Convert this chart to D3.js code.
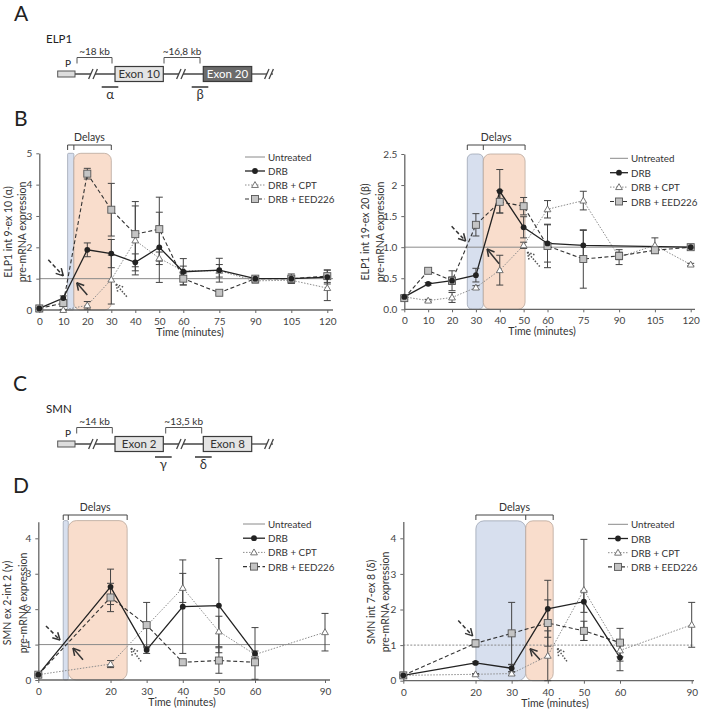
<!DOCTYPE html>
<html>
<head>
<meta charset="utf-8">
<script src="https://cdn.jsdelivr.net/npm/d3@7"></script>
<style>
  body { margin: 0; background: #fff; }
  svg { font-family: Lato, 'Open Sans', sans-serif; }
</style>
</head>
<body>
<div id="figure"></div>
<script>
// ---- Panel B left: ELP1 int 9-ex 10 (alpha)
const elpAlphaTimes = [0, 10, 20, 30, 40, 50, 60, 75, 90, 105, 120];
const elpAlphaDrb = [0.05, 0.38, 1.92, 1.8, 1.52, 2.0, 1.22, 1.27, 1.0, 1.0, 1.05];
const elpAlphaDrbErr = [0.03, 0.07, 0.22, 0.45, 0.27, 1.12, 0.42, 0.38, 0.06, 0.15, 0.22];
const elpAlphaCpt = [0.02, 0.0, 0.15, 0.97, 2.22, 1.65, 1.25, 1.25, 0.93, 0.95, 0.7];
const elpAlphaCptErr = [0.02, 0.02, 0.12, 0.78, 1.1, 0.2, 0.15, 0.2, 0.06, 0.1, 0.4];
const elpAlphaEed = [0.05, 0.22, 4.35, 3.2, 2.42, 2.58, 1.0, 0.55, 1.0, 1.0, 1.08];
const elpAlphaEedErr = [0.03, 0.1, 0.17, 0.84, 1.04, 1.02, 0.2, 0.05, 0.06, 0.08, 0.2];
const elpAlphaYTicks = [0, 1, 2, 3, 4, 5];

// ---- Panel B right: ELP1 int 19-ex 20 (beta)
const elpBetaTimes = [0, 10, 20, 30, 40, 50, 60, 75, 90, 105, 120];
const elpBetaDrb = [0.2, 0.41, 0.46, 0.55, 1.9, 1.32, 1.06, 1.03, null, null, 1.0];
const elpBetaDrbErr = [0.02, 0.02, 0.06, 0.11, 0.35, 0.17, 0.3, 0.24, null, null, 0.02];
const elpBetaCpt = [0.2, 0.14, 0.19, 0.35, 0.63, 1.03, 1.61, 1.75, 0.84, 1.03, 0.72];
const elpBetaCptErr = [0.02, 0.02, 0.08, 0.03, 0.24, 0.05, 0.14, 0.15, 0.12, 0.12, 0.02];
const elpBetaEed = [0.18, 0.62, 0.46, 1.36, 1.73, 1.66, 1.02, 0.81, 0.86, 0.95, 1.0];
const elpBetaEedErr = [0.02, 0.02, 0.16, 0.18, 0.18, 0.14, 0.35, 0.47, 0.06, 0.05, 0.02];
const elpBetaYTicks = [0, 0.5, 1, 1.5, 2, 2.5];
const elpBetaYLabels = ['0.0', '0.5', '1.0', '1.5', '2', '2.5'];

// ---- Panel D left: SMN ex 2-int 2 (gamma)
const smnGammaTimes = [0, 20, 30, 40, 50, 60, 90];
const smnGammaDrb = [0.15, 2.63, 0.85, 2.07, 2.1, 0.75, null];
const smnGammaDrbErr = [0.02, 0.5, 0.1, 1.32, 1.33, 0.73, null];
const smnGammaCpt = [0.15, 0.45, null, 2.6, 1.37, 0.72, 1.35];
const smnGammaCptErr = [0.02, 0.1, null, 0.41, 0.43, 0.1, 0.53];
const smnGammaEed = [0.15, 2.33, 1.55, 0.5, 0.55, 0.5, null];
const smnGammaEedErr = [0.02, 0.4, 0.64, 0.05, 0.36, 0.05, null];

// ---- Panel D right: SMN int 7-ex 8 (delta)
const smnDeltaTimes = [0, 20, 30, 40, 50, 60, 90];
const smnDeltaDrb = [0.15, 0.5, 0.35, 2.02, 2.22, 0.65, null];
const smnDeltaDrbErr = [0.02, 0.03, 0.1, 0.8, 0.3, 0.37, null];
const smnDeltaCpt = [0.15, 0.18, 0.2, 0.7, 2.55, 0.85, 1.57];
const smnDeltaCptErr = [0.02, 0.02, 0.05, 0.7, 1.42, 0.3, 0.63];
const smnDeltaEed = [0.15, 1.05, 1.33, 1.62, 1.4, 1.07, null];
const smnDeltaEedErr = [0.02, 0.1, 0.87, 0.65, 0.27, 0.4, null];
const smnYTicks = [0, 1, 2, 3, 4];

const legendLabels = ['Untreated', 'DRB', 'DRB + CPT', 'DRB + EED226'];

// Line / marker look for each treatment
const styles = {
  drb: { stroke: '#222', width: 1.3, dash: null, marker: 'circle' },
  cpt: { stroke: '#8c8c8c', width: 1, dash: '1.5,1.5', marker: 'triangle' },
  eed: { stroke: '#333', width: 1.1, dash: '4,2.5', marker: 'square' }
};
const bandColours = {
  blue: { fill: '#d7dfee', stroke: '#9ea6b4' },
  orange: { fill: '#f9ddcc', stroke: '#b9a79c' }
};

const svg = d3.select('#figure').append('svg')
  .attr('width', 701)
  .attr('height', 710);
svg.append('rect').attr('width', 701).attr('height', 710).attr('fill', '#fff');

// Panel letters
[['A', 14, 21], ['B', 14, 126], ['C', 13, 391], ['D', 13, 493]].forEach(([t, px, py]) => {
  svg.append('text').attr('x', px).attr('y', py)
    .style('font-size', '21px').style('fill', '#222').text(t);
});

// ---------- gene diagrams ----------
function drawGene(cfg) {
  const g = svg.append('g');
  const gy = cfg.y;
  g.append('text').attr('x', 46).attr('y', gy - 31)
    .style('font-size', '11.5px').style('fill', '#222').text(cfg.name);

  // backbone segments
  [[75, 115], [163, 203], [252, 273]].forEach(([a, b]) => {
    g.append('line').attr('x1', a).attr('x2', b).attr('y1', gy).attr('y2', gy)
      .attr('stroke', '#444').attr('stroke-width', 1.3);
  });
  // break marks
  [93, 181, 269].forEach(cx => {
    g.append('rect').attr('x', cx - 2).attr('y', gy - 1).attr('width', 4).attr('height', 2).attr('fill', '#fff');
    [-2.2, 2.2].forEach(o => {
      g.append('line').attr('x1', cx + o - 2.2).attr('y1', gy + 5).attr('x2', cx + o + 2.2).attr('y2', gy - 5)
        .attr('stroke', '#444').attr('stroke-width', 1.3);
    });
  });
  // promoter
  g.append('rect').attr('x', 57.7).attr('y', gy - 3).attr('width', 17.3).attr('height', 6)
    .attr('fill', '#ddd').attr('stroke', '#555').attr('stroke-width', 1);
  g.append('text').attr('x', 68).attr('y', gy - 7).attr('text-anchor', 'middle')
    .style('font-size', '10px').style('fill', '#222').text('P');
  // exons
  cfg.exons.forEach(e => {
    g.append('rect').attr('x', e.x0).attr('y', gy - 7.5).attr('width', e.x1 - e.x0).attr('height', 15)
      .attr('fill', e.dark ? '#6b6b6b' : '#e4e4e4').attr('stroke', '#3a3a3a').attr('stroke-width', 1.2);
    g.append('text').attr('x', (e.x0 + e.x1) / 2).attr('y', gy + 4.2).attr('text-anchor', 'middle')
      .style('font-size', '11.5px').style('fill', e.dark ? '#fff' : '#333').text(e.label);
  });
  // distance brackets
  cfg.brackets.forEach(b => {
    g.append('path').attr('d', `M${b.x0},${gy - 10.5}V${gy - 16.5}H${b.x1}V${gy - 10.5}`)
      .attr('fill', 'none').attr('stroke', '#555').attr('stroke-width', 1);
    g.append('text').attr('x', (b.x0 + b.x1) / 2).attr('y', gy - 19).attr('text-anchor', 'middle')
      .style('font-size', '10px').style('fill', '#333').text(b.label);
  });
  // amplicon probes
  cfg.probes.forEach(p => {
    g.append('line').attr('x1', p.x0).attr('x2', p.x1).attr('y1', gy + 13).attr('y2', gy + 13)
      .attr('stroke', '#333').attr('stroke-width', 1.5);
    g.append('text').attr('x', (p.x0 + p.x1) / 2).attr('y', gy + 25).attr('text-anchor', 'middle')
      .style('font-size', '13px').style('fill', '#333').text(p.label);
  });
}

drawGene({
  y: 74, name: 'ELP1',
  exons: [{ x0: 115, x1: 163.3, label: 'Exon 10' }, { x0: 203.3, x1: 251.7, label: 'Exon 20', dark: true }],
  brackets: [{ x0: 77, x1: 112, label: '~18 kb' }, { x0: 164, x1: 200, label: '~16,8 kb' }],
  probes: [{ x0: 101.7, x1: 118.3, label: 'α' }, { x0: 191.7, x1: 208.3, label: 'β' }]
});
drawGene({
  y: 444, name: 'SMN',
  exons: [{ x0: 115, x1: 163.3, label: 'Exon 2' }, { x0: 203.3, x1: 251.7, label: 'Exon 8' }],
  brackets: [{ x0: 76.7, x1: 112.3, label: '~14 kb' }, { x0: 165.7, x1: 201.7, label: '~13,5 kb' }],
  probes: [{ x0: 155, x1: 171.7, label: 'γ' }, { x0: 195, x1: 211.7, label: 'δ' }]
});

// ---------- time-course panels ----------
function drawMarker(g, kind, cx, cy) {
  if (kind === 'circle') {
    g.append('circle').attr('cx', cx).attr('cy', cy).attr('r', 2.9).attr('fill', '#222');
  } else if (kind === 'triangle') {
    g.append('path').attr('d', d3.symbol(d3.symbolTriangle, 20)())
      .attr('transform', `translate(${cx},${cy + 0.5})`)
      .attr('fill', '#fff').attr('stroke', '#666').attr('stroke-width', 0.9);
  } else {
    g.append('rect').attr('x', cx - 3.5).attr('y', cy - 3.5).attr('width', 7).attr('height', 7)
      .attr('fill', '#c4c4c4').attr('stroke', '#555').attr('stroke-width', 0.9);
  }
}

function drawArrow(g, tx, ty, dx, dy, kind) {
  const col = kind === 'cpt' ? '#555' : '#333';
  const dash = kind === 'drb' ? null : (kind === 'eed' ? '4,2.5' : '1.5,1.5');
  g.append('line').attr('x1', tx + dx).attr('y1', ty + dy).attr('x2', tx).attr('y2', ty)
    .attr('stroke', col).attr('stroke-width', 1.5).attr('stroke-dasharray', dash);
  const ang = Math.atan2(-dy, -dx);
  [0.5, -0.5].forEach(o => {
    const a = ang + Math.PI + o;
    g.append('line').attr('x1', tx).attr('y1', ty)
      .attr('x2', tx + 8 * Math.cos(a)).attr('y2', ty + 8 * Math.sin(a))
      .attr('stroke', col).attr('stroke-width', 1.5)
      .attr('stroke-dasharray', kind === 'cpt' ? '1.5,1.5' : null);
  });
}

function drawPanel(p) {
  const g = svg.append('g');
  const x = d3.scaleLinear().domain(p.xDomain).range(p.xRange);
  const y = d3.scaleLinear().domain([0, p.yMax]).range([p.y0, p.y0 - p.yMax * p.ppu]);

  // delay bands
  p.bands.forEach(b => {
    g.append('rect')
      .attr('x', x(b.from)).attr('width', x(b.to) - x(b.from))
      .attr('y', y(p.bandTop)).attr('height', y(0) - y(p.bandTop))
      .attr('rx', b.rx)
      .attr('fill', bandColours[b.kind].fill)
      .attr('stroke', bandColours[b.kind].stroke).attr('stroke-width', 0.8);
  });
  const bx0 = x(p.bands[0].from), bxm = x(p.bands[0].to), bx1 = x(p.bands[1].to);
  const by = p.bracketY;
  g.append('path')
    .attr('d', `M${bx0},${by + 5}V${by}H${bx1}V${by + 5}M${bxm},${by}V${by + 5}`)
    .attr('fill', 'none').attr('stroke', '#444').attr('stroke-width', 1);
  g.append('text').attr('x', (bx0 + bx1) / 2).attr('y', by - 4).attr('text-anchor', 'middle')
    .style('font-size', '10.5px').style('fill', '#333').text('Delays');

  // untreated reference
  g.append('line').attr('x1', p.xRange[0]).attr('x2', p.xEnd).attr('y1', y(1)).attr('y2', y(1))
    .attr('stroke', '#8a8a8a').attr('stroke-width', 1).attr('stroke-dasharray', p.untreatedDash);

  // axes
  const yAxis = g.append('g').attr('transform', `translate(${p.xRange[0]},0)`)
    .call(d3.axisLeft(y).tickValues(p.yTicks).tickFormat((d, i) => p.yLabels ? p.yLabels[i] : d)
      .tickSize(3).tickSizeOuter(0).tickPadding(4));
  const xAxis = g.append('g').attr('transform', `translate(0,${p.y0})`)
    .call(d3.axisBottom(x).tickValues(p.times).tickSize(3).tickSizeOuter(0).tickPadding(5));
  xAxis.select('.domain').remove();
  g.append('line').attr('x1', p.xRange[0]).attr('x2', p.xEnd).attr('y1', p.y0).attr('y2', p.y0)
    .attr('stroke', '#666').attr('stroke-width', 1.3);
  [yAxis, xAxis].forEach(a => {
    a.selectAll('.domain').attr('stroke', '#666').attr('stroke-width', 1.3);
    a.selectAll('.tick line').attr('stroke', '#666');
    a.selectAll('.tick text').style('font-size', '10px').style('fill', '#444').style('font-family', 'Lato, sans-serif');
  });

  // axis titles
  p.yLabel.forEach((t, i) => {
    g.append('text')
      .attr('transform', `translate(${p.yLabelX[i]},${p.yLabelY}) rotate(-90)`)
      .attr('text-anchor', 'middle').attr('dominant-baseline', 'central')
      .style('font-size', '10.5px').style('fill', '#333').text(t);
  });
  g.append('text').attr('x', p.xLabelX).attr('y', p.y0 + 26).attr('text-anchor', 'middle')
    .style('font-size', '10.5px').style('fill', '#333').text('Time (minutes)');

  // series
  const order = ['cpt', 'eed', 'drb'];
  const pts = {};
  order.forEach(k => {
    pts[k] = p.times.map((t, i) => ({ t, v: p.series[k][0][i], e: p.series[k][1][i] }))
      .filter(d => d.v != null);
  });
  const line = d3.line().x(d => x(d.t)).y(d => y(d.v));
  order.forEach(k => {
    g.append('path').datum(pts[k]).attr('d', line).attr('fill', 'none')
      .attr('stroke', styles[k].stroke).attr('stroke-width', styles[k].width)
      .attr('stroke-dasharray', styles[k].dash);
  });
  order.forEach(k => {
    pts[k].filter(d => d.e != null).forEach(d => {
      const cx = x(d.t);
      const top = y(d.v + d.e), bot = y(Math.max(0, d.v - d.e));
      g.append('path')
        .attr('d', `M${cx},${top}V${bot}M${cx - 3.5},${top}H${cx + 3.5}M${cx - 3.5},${bot}H${cx + 3.5}`)
        .attr('fill', 'none').attr('stroke', '#444').attr('stroke-width', 1);
    });
  });
  order.forEach(k => {
    pts[k].forEach(d => drawMarker(g, styles[k].marker, x(d.t), y(d.v)));
  });

  // arrows at the crossing of the untreated level
  p.arrows.forEach(a => drawArrow(g, x(a.t), y(a.v), a.dx, a.dy, a.kind));

  // legend
  const lg = p.legend;
  legendLabels.forEach((lab, i) => {
    const ly = lg.y + i * lg.gap;
    const key = [null, 'drb', 'cpt', 'eed'][i];
    const st = key ? styles[key] : { stroke: '#8a8a8a', width: 1, dash: null };
    g.append('line').attr('x1', lg.x).attr('x2', lg.x + lg.len).attr('y1', ly).attr('y2', ly)
      .attr('stroke', st.stroke).attr('stroke-width', st.width).attr('stroke-dasharray', st.dash);
    if (key) drawMarker(g, st.marker, lg.x + lg.len / 2, ly);
    g.append('text').attr('x', lg.x + lg.len + 3).attr('y', ly).attr('dominant-baseline', 'central')
      .style('font-size', '9.8px').style('fill', '#333').text(lab);
  });
}

drawPanel({
  times: elpAlphaTimes,
  series: { drb: [elpAlphaDrb, elpAlphaDrbErr], cpt: [elpAlphaCpt, elpAlphaCptErr], eed: [elpAlphaEed, elpAlphaEedErr] },
  xDomain: [0, 120], xRange: [39.3, 327.3], xEnd: 333,
  y0: 310, ppu: 31.34, yMax: 5, yTicks: elpAlphaYTicks,
  bands: [{ from: 11.8, to: 14.4, kind: 'blue', rx: 1 }, { from: 14.4, to: 30, kind: 'orange', rx: 7 }],
  bandTop: 5, bracketY: 145,
  yLabel: ['ELP1 int 9-ex 10 (α)', 'pre-mRNA expression'], yLabelX: [7.5, 21.5], yLabelY: 232, xLabelX: 190,
  legend: { x: 245, y: 157, len: 20, gap: 14 },
  arrows: [
    { t: 10, v: 1.09, dx: -15, dy: -16, kind: 'eed' },
    { t: 15.6, v: 0.87, dx: 10.6, dy: 12.3, kind: 'drb' },
    { t: 32, v: 0.82, dx: 10.7, dy: 12.4, kind: 'cpt' }
  ]
});

drawPanel({
  times: elpBetaTimes,
  series: { drb: [elpBetaDrb, elpBetaDrbErr], cpt: [elpBetaCpt, elpBetaCptErr], eed: [elpBetaEed, elpBetaEedErr] },
  xDomain: [0, 120], xRange: [404.3, 690.7], xEnd: 695,
  y0: 309.3, ppu: 62.12, yMax: 2.5, yTicks: elpBetaYTicks, yLabels: elpBetaYLabels,
  bands: [{ from: 26.4, to: 33.1, kind: 'blue', rx: 5 }, { from: 33.1, to: 50.6, kind: 'orange', rx: 7 }],
  bandTop: 2.5, bracketY: 145,
  yLabel: ['ELP1 int 19-ex 20 (β)', 'pre-mRNA expression'], yLabelX: [365, 380], yLabelY: 232, xLabelX: 542,
  legend: { x: 610, y: 158.3, len: 18, gap: 14.4 },
  arrows: [
    { t: 25.7, v: 1.1, dx: -14, dy: -14.7, kind: 'eed' },
    { t: 34.7, v: 0.97, dx: 12, dy: 14.7, kind: 'drb' },
    { t: 51.6, v: 0.92, dx: 12.3, dy: 14.4, kind: 'cpt' }
  ]
});

drawPanel({
  times: smnGammaTimes,
  series: { drb: [smnGammaDrb, smnGammaDrbErr], cpt: [smnGammaCpt, smnGammaCptErr], eed: [smnGammaEed, smnGammaEedErr] },
  xDomain: [0, 60, 90], xRange: [38.3, 255, 325], xEnd: 330,
  y0: 680, ppu: 35.42, yMax: 4.47, yTicks: smnYTicks,
  bands: [{ from: 6.9, to: 8.3, kind: 'blue', rx: 1.5 }, { from: 8.3, to: 24.6, kind: 'orange', rx: 8 }],
  bandTop: 4.5, bracketY: 515,
  yLabel: ['SMN ex 2-int 2 (γ)', 'pre-mRNA expression'], yLabelX: [7.3, 22.7], yLabelY: 603, xLabelX: 182,
  legend: { x: 243, y: 524, len: 22, gap: 14.2 },
  arrows: [
    { t: 6.0, v: 1.13, dx: -14, dy: -14, kind: 'eed' },
    { t: 9.6, v: 0.9, dx: 10, dy: 11.7, kind: 'drb' },
    { t: 25.7, v: 0.9, dx: 10, dy: 13.4, kind: 'cpt' }
  ]
});

drawPanel({
  times: smnDeltaTimes,
  series: { drb: [smnDeltaDrb, smnDeltaDrbErr], cpt: [smnDeltaCpt, smnDeltaCptErr], eed: [smnDeltaEed, smnDeltaEedErr] },
  xDomain: [0, 60, 90], xRange: [403.3, 620, 691.7], xEnd: 694,
  y0: 680.7, ppu: 35.6, yMax: 4.47, yTicks: smnYTicks,
  bands: [{ from: 20.1, to: 33.9, kind: 'blue', rx: 8 }, { from: 33.9, to: 41.5, kind: 'orange', rx: 7 }],
  bandTop: 4.49, bracketY: 515, untreatedDash: '2,1.5',
  yLabel: ['SMN int 7-ex 8 (δ)', 'pre-mRNA expression'], yLabelX: [370.7, 385], yLabelY: 602, xLabelX: 555,
  legend: { x: 608, y: 524.3, len: 20, gap: 14.2 },
  arrows: [
    { t: 19.2, v: 1.26, dx: -14.4, dy: -15.3, kind: 'eed' },
    { t: 35.1, v: 0.9, dx: 10, dy: 11, kind: 'drb' },
    { t: 42.7, v: 0.9, dx: 9.4, dy: 12.7, kind: 'cpt' }
  ]
});
</script>
</body>
</html>
